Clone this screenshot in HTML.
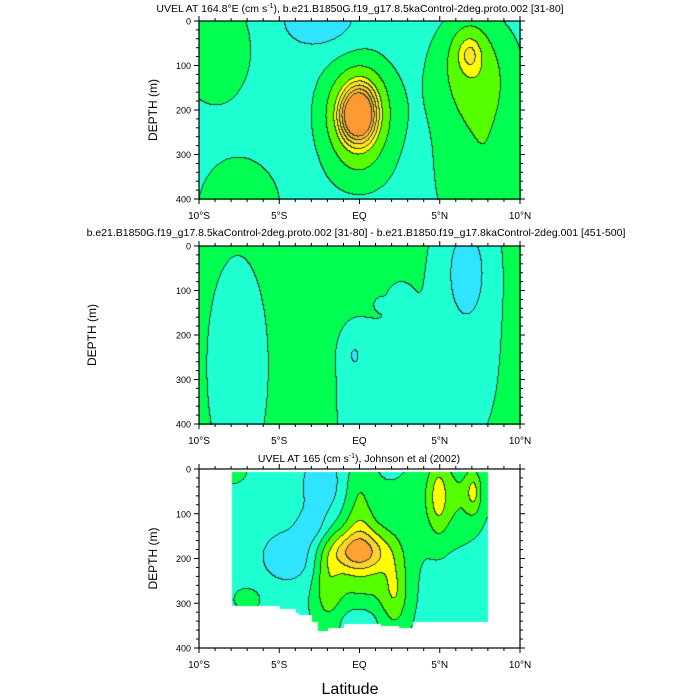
<!DOCTYPE html>
<html><head><meta charset="utf-8"><style>
body{margin:0;background:#fff;width:700px;height:700px;overflow:hidden;font-family:"Liberation Sans",sans-serif}
#c{position:absolute;left:0;top:0}
#s{position:absolute;left:0;top:0}
</style></head><body>
<canvas id="c" width="700" height="700"></canvas>
<svg id="s" width="700" height="700" font-family="Liberation Sans, sans-serif">
<text x="360" y="12" font-size="10.5" text-anchor="middle">UVEL AT 164.8°E (cm s<tspan font-size="7" dy="-4">-1</tspan><tspan dy="4">), b.e21.B1850G.f19_g17.8.5kaControl-2deg.proto.002 [31-80]</tspan></text>
<text x="356" y="236" font-size="10.5" text-anchor="middle">b.e21.B1850G.f19_g17.8.5kaControl-2deg.proto.002 [31-80] - b.e21.B1850.f19_g17.8kaControl-2deg.001 [451-500]</text>
<text x="359" y="462" font-size="10.5" text-anchor="middle">UVEL AT 165 (cm s<tspan font-size="7" dy="-4">-1</tspan><tspan dy="4">), Johnson et al (2002)</tspan></text>
<text x="350" y="694" font-size="16" text-anchor="middle">Latitude</text>
<g id="axes"></g>
</svg>
<script>
const latTicks=[-10,-5,0,5,10];
const latLabels=["10°S","5°S","EQ","5°N","10°N"];
const depthTicks=[0,100,200,300,400];
// blobs: [lat, depth, amplitude, sigmaLat, sigmaDepth, shapePower(optional)]
const p1Base=-5;
const p1Blobs=[[-0.1,212,72,1.44,78,0.7],[0.3,150,4,1.2,50],[0,340,4,2.0,60],[6.8,65,14,1.0,55],[7.1,110,18,2.5,120],[7.8,340,14,3.0,190],[-9,60,13,2.3,130],[-7.5,420,14,2.5,110],[-2.5,0,-13,2.3,60]];
const p2Base=4;
const p2Blobs=[[-7.6,270,-10,2.0,260],[0.8,360,-10,2.3,200],[-0.4,240,-9,0.8,55],[6.5,160,-9,2.7,330],[6.7,50,-12,1.3,110],[3.5,330,-6,1.0,100],[2.5,120,-6,0.8,40],[9.8,300,6,0.6,200],[1.3,130,-7,0.3,12],[0.8,60,7,0.3,10]];
const p3Base=-4;
const p3Blobs=[[-2.3,40,-16,1.3,80],[-4.3,195,-15,1.8,60],[-3,130,-10,1.0,40],[-8,0,8,1.2,40],[-7,290,8,1.0,30],[0.2,230,16,2.8,180],[-2,260,14,0.8,80],[2.2,270,16,0.8,80],[-0.1,185,36,1.8,45],[0,130,8,0.8,50],[0,340,-14,1.3,40],[5.5,60,16,2.2,100],[4.9,60,14,0.6,90],[7.1,50,18,0.5,50],[0,40,8,0.8,80]];
const p3MaskLat=[-8,-5.3,-5,-4,-3.8,-3,-2.6,-2,-1.5,-1,0,1,1.3,2,2.4,3.3,4,7,8];
const p3MaskDepth=[305,305,312,320,325,340,362,355,355,345,345,345,350,350,355,340,340,340,335];
const fillLevels1=[-10,0,10,20,25,30,35,40];
const colors1=["#2ee4ff","#1effd2","#00ff50","#55ff00","#ffff00","#ffe422","#ffcc2a","#ffb42e","#ff9a33"];
const fillLevels=[-10,0,10,20,30,40];
const colors=["#2ee4ff","#1effd2","#00ff50","#55ff00","#ffff00","#ffd42a","#ffa133"];
const lineLevels1=[-10,0,10,20,25,30,35,40];
const lineLevels3=[-10,0,10,20,30,40];
const panels=[{x0:199,x1:520,y0:21,y1:199,base:p1Base,blobs:p1Blobs,name:"panel1",lx:157,ll:lineLevels1,fl:fillLevels1,cols:colors1},
 {x0:199,x1:520,y0:246,y1:424,base:p2Base,blobs:p2Blobs,name:"panel2",lx:96,ll:lineLevels3,fl:fillLevels,cols:colors},
 {x0:199,x1:520,y0:469,y1:648,base:p3Base,blobs:p3Blobs,name:"panel3",lx:157,mask:true,ll:lineLevels3,fl:fillLevels,cols:colors}];
function field(p,lat,d){let v=p.base;for(const b of p.blobs){const dx=(lat-b[0])/b[3],dy=(d-b[1])/b[4];const r2=dx*dx+dy*dy;const pw=b.length>5?b[5]:1;v+=b[2]*Math.exp(-Math.pow(r2,pw));}return v;}
function lvl(v,arr){let i=0;while(i<arr.length&&v>=arr[i])i++;return i;}
function maskDepth(lat){if(lat<p3MaskLat[0]||lat>p3MaskLat[p3MaskLat.length-1])return -1;for(let i=0;i<p3MaskLat.length-1;i++){if(lat<=p3MaskLat[i+1])return p3MaskDepth[i];}return p3MaskDepth[p3MaskDepth.length-1];}
function hex(c){return [parseInt(c.substr(1,2),16),parseInt(c.substr(3,2),16),parseInt(c.substr(5,2),16)];}
const ctx=document.getElementById('c').getContext('2d');
const img=ctx.createImageData(700,700);
for(let i=0;i<img.data.length;i++)img.data[i]=255;
for(const p of panels){
 const rgb=p.cols.map(hex);
 const W=p.x1-p.x0,H=p.y1-p.y0;
 const xs=x=>-10+20*(x-p.x0)/W, ys=y=>400*(y-p.y0)/H;
 const F=[],L=[],M=[];
 for(let y=p.y0;y<=p.y1;y++){F.push([]);L.push([]);M.push([]);
  for(let x=p.x0;x<=p.x1;x++){const la=xs(x),de=ys(y);const v=field(p,la,de);F[F.length-1].push(lvl(v,p.fl));L[L.length-1].push(lvl(v,p.ll));
   let ok=true;if(p.mask){const md=maskDepth(la);ok=md>0&&de>=5&&de<=md;}M[M.length-1].push(ok);}}
 for(let j=0;j<=H;j++)for(let i=0;i<=W;i++){if(!M[j][i])continue;
  let c=rgb[F[j][i]];
  const l=L[j][i];
  if((i<W&&M[j][i+1]&&L[j][i+1]!==l)||(j<H&&M[j+1][i]&&L[j+1][i]!==l))c=[40,60,50];
  const k=((p.y0+j)*700+p.x0+i)*4;img.data[k]=c[0];img.data[k+1]=c[1];img.data[k+2]=c[2];}
}
ctx.putImageData(img,0,0);
const g=document.getElementById('axes');const NS="http://www.w3.org/2000/svg";
function el(t,a){const e=document.createElementNS(NS,t);for(const k in a)e.setAttribute(k,a[k]);g.appendChild(e);return e;}
for(const p of panels){
 const W=p.x1-p.x0,H=p.y1-p.y0;
 const xp=la=>p.x0+(la+10)/20*W, yp=d=>p.y0+d/400*H;
 const fr=el('rect',{x:p.x0,y:p.y0,width:W,height:H,fill:'none',stroke:'#000','stroke-width':1.2});
 
 
 for(let la=-10;la<=10;la++){const maj=la%5===0,len=maj?5:3,x=xp(la);
  el('line',{x1:x,x2:x,y1:p.y1,y2:p.y1+len,stroke:'#000','stroke-width':1});
  el('line',{x1:x,x2:x,y1:p.y0,y2:p.y0-len,stroke:'#000','stroke-width':1});}
 for(let d=0;d<=400;d+=20){const maj=d%100===0,len=maj?5:3,y=yp(d);
  el('line',{x1:p.x0,x2:p.x0-len,y1:y,y2:y,stroke:'#000','stroke-width':1});
  el('line',{x1:p.x1,x2:p.x1+len,y1:y,y2:y,stroke:'#000','stroke-width':1});}
 latTicks.forEach((la,i)=>{const t=el('text',{x:xp(la),y:p.y1+20,'font-size':10,'text-anchor':'middle'});t.textContent=latLabels[i];
  
  });
 depthTicks.forEach(d=>{const t=el('text',{x:p.x0-8,y:yp(d)+3.5,'font-size':9,'text-anchor':'end'});t.textContent=d;
  
  });
 const yl=el('text',{x:p.lx,y:(p.y0+p.y1)/2,'font-size':12,'text-anchor':'middle',transform:`rotate(-90 ${p.lx} ${(p.y0+p.y1)/2})`});yl.textContent='DEPTH (m)';
 
 
}
</script>
</body></html>
